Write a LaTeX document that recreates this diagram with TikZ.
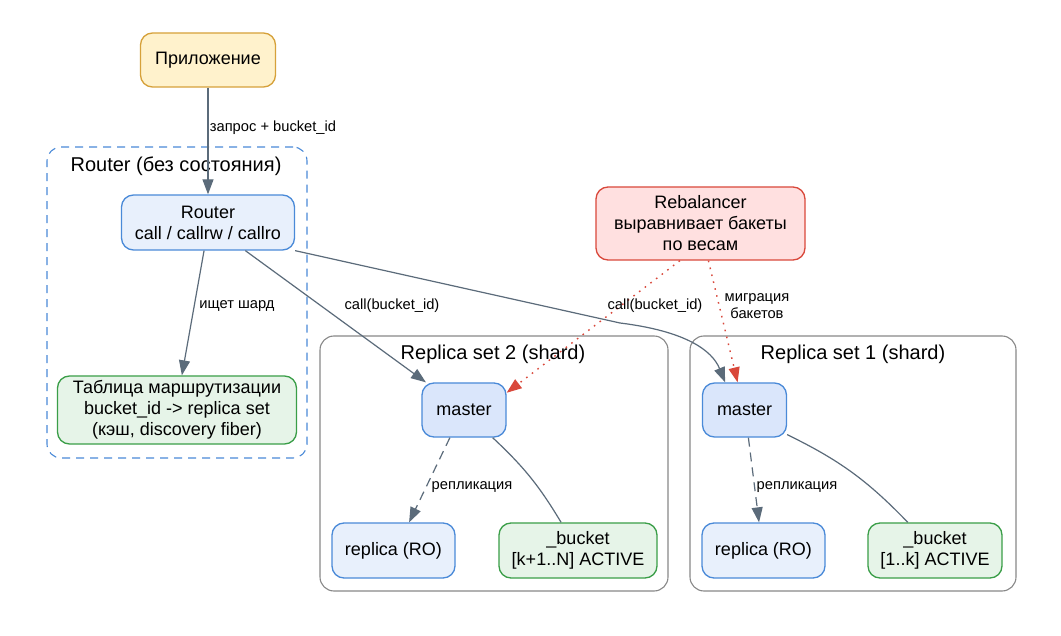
\documentclass[tikz,border=0pt]{standalone}
\usepackage{fontspec}
\setmainfont{Liberation Sans}
\usepackage{tikz}
\usetikzlibrary{arrows.meta,positioning,calc}
\definecolor{appfill}{RGB}{255,242,204}
\definecolor{appline}{RGB}{214,161,58}
\definecolor{bluefill}{RGB}{232,240,252}
\definecolor{masterfill}{RGB}{218,230,251}
\definecolor{blueline}{RGB}{74,138,216}
\definecolor{greenfill}{RGB}{230,244,232}
\definecolor{greenline}{RGB}{58,158,72}
\definecolor{redfill}{RGB}{255,224,224}
\definecolor{redline}{RGB}{217,72,59}
\definecolor{edgeline}{RGB}{91,107,122}
\definecolor{clusterline}{RGB}{136,136,136}
\newcommand{\boxfont}{\fontsize{18}{21}\selectfont}
\newcommand{\edgefont}{\fontsize{14.7}{16.5}\selectfont}
\newcommand{\framefont}{\fontsize{20}{23}\selectfont}
\tikzset{
  % rounded process boxes
  nodebox/.style={draw, rounded corners=12pt, line width=1.3pt, align=center,
    inner sep=2pt, font=\boxfont},
  appbox/.style={nodebox, draw=appline, fill=appfill},
  bluebox/.style={nodebox, draw=blueline, fill=bluefill},
  masterbox/.style={nodebox, draw=blueline, fill=masterfill},
  greenbox/.style={nodebox, draw=greenline, fill=greenfill},
  redbox/.style={nodebox, draw=redline, fill=redfill},
  % frames around groups
  clusterbox/.style={draw=clusterline, rounded corners=14pt, line width=1.1pt},
  routerframe/.style={draw=blueline, rounded corners=14pt, line width=1.1pt,
    dash pattern=on 8pt off 6pt},
  framelabel/.style={font=\framefont, inner sep=0pt},
  % connectors
  conn/.style={-{Triangle[length=15pt,width=11pt]}, line width=1.2pt, edgeline},
  plainconn/.style={line width=1.2pt, edgeline},
  replconn/.style={conn, dash pattern=on 9pt off 6pt},
  rebalconn/.style={-{Triangle[length=15pt,width=11pt]}, line width=1.4pt, redline,
    dash pattern=on 1.6pt off 5.5pt},
  % connector labels
  elabel/.style={font=\edgefont, align=center, inner sep=1pt},
}

\begin{document}
\begin{tikzpicture}[x=1pt, y=-1pt]
    \fill[white] (0,0) rectangle (1061,636);
    \useasboundingbox (0,0) rectangle (1061,636);
    % group frames
    \node[routerframe, minimum width=260pt, minimum height=311pt] (routergrp) at (177,302.5) {};
    \node[clusterbox, minimum width=348pt, minimum height=255pt] (rs2) at (494,463.5) {};
    \node[clusterbox, minimum width=326pt, minimum height=255pt] (rs1) at (853,463.5) {};
    \node[framelabel] (routergrplbl) at (176,166) {Router (без состояния)};
    \node[framelabel] (rs2lbl) at (493,354) {Replica set 2 (shard)};
    \node[framelabel] (rs1lbl) at (853,354) {Replica set 1 (shard)};
    % boxes
    \node[appbox, minimum width=135pt, minimum height=54pt] (app) at (208,60) {Приложение};
    \node[bluebox, minimum width=173pt, minimum height=55pt] (router) at (208,222.5)
      {Router\\call / callrw / callro};
    \node[greenbox, minimum width=239pt, minimum height=68pt] (table) at (177,410)
      {Таблица маршрутизации\\bucket\_id -> replica set\\(кэш, discovery fiber)};
    \node[redbox, minimum width=209pt, minimum height=73pt] (rebal) at (700.5,223.5)
      {Rebalancer\\выравнивает бакеты\\по весам};
    \node[masterbox, minimum width=84pt, minimum height=54pt] (master2) at (464,410) {master};
    \node[bluebox, minimum width=123pt, minimum height=55pt] (replica2) at (393.5,550.5) {replica (RO)};
    \node[greenbox, minimum width=158pt, minimum height=55pt] (bucket2) at (578,550.5)
      {\_bucket\\{}[k+1..N] ACTIVE};
    \node[masterbox, minimum width=84pt, minimum height=54pt] (master1) at (744.5,410) {master};
    \node[bluebox, minimum width=123pt, minimum height=55pt] (replica1) at (763.5,550.5) {replica (RO)};
    \node[greenbox, minimum width=134pt, minimum height=55pt] (bucket1) at (935,550.5)
      {\_bucket\\{}[1..k] ACTIVE};
    % requests
    \draw[conn] (app) -- (router);
    \draw[conn] (router.262) -- (table.82);
    \draw[conn] (router.323) -- (master2.144);
    \coordinate (bend1) at (620,323);
    \draw[conn] (router.south east) -- (bend1) .. controls (685,331) and (712,350) .. (master1.125);
    % rebalancer
    \draw[rebalconn] (rebal.241) -- (master2.22);
    \draw[rebalconn] (rebal.282) -- (master1.104);
    % inside the shards
    \draw[replconn] (master2.243) -- (replica2.61);
    \draw[plainconn] (master2.316) to[bend left=8] (bucket2.121);
    \draw[replconn] (master1.278) -- (replica1.99);
    \draw[plainconn] (master1.330) to[bend left=10] (bucket1.134);
    % connector labels
    \node[elabel] (lblreq) at (273,128) {запрос + bucket\_id};
    \node[elabel] (lblfind) at (237,306) {ищет шард};
    \node[elabel] (lblcall2) at (392,306) {call(bucket\_id)};
    \node[elabel] (lblcallr) at (655,306) {call(bucket\_id)};
    \node[elabel] (lblmig) at (757,306) {миграция\\бакетов};
    \node[elabel] (lblrepl2) at (472,487) {репликация};
    \node[elabel] (lblrepl1) at (797,487) {репликация};
\end{tikzpicture}
\end{document}
